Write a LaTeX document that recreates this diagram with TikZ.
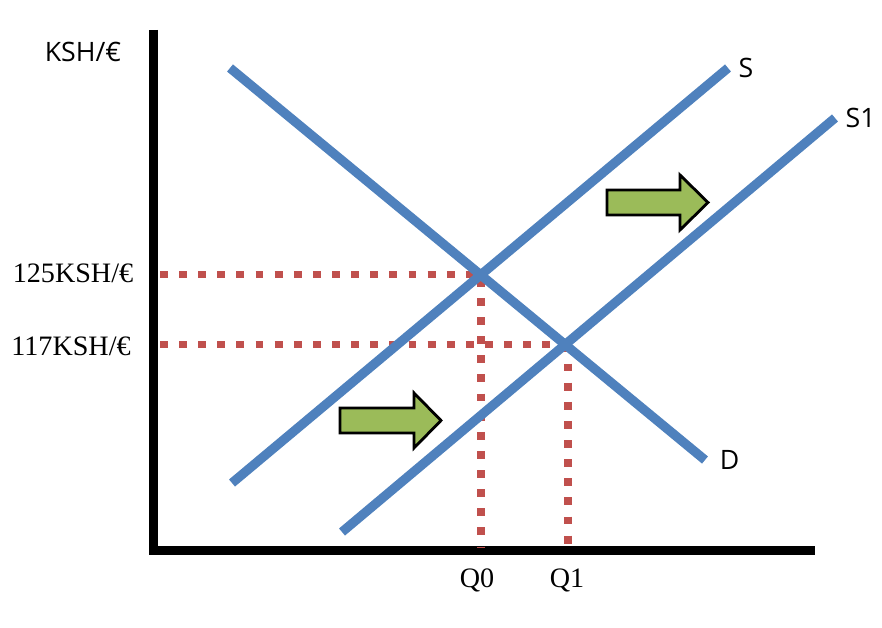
\documentclass[tikz,border=0pt]{standalone}
\usepackage{fontspec}
\setmainfont{Liberation Serif}
\newfontfamily\labelfont{Open Sans}
\usepackage{xcolor}
\usetikzlibrary{positioning}

\definecolor{curveblue}{HTML}{4F81BD}
\definecolor{guidered}{HTML}{C0504D}
\definecolor{shiftgreen}{HTML}{9BBB59}

\begin{document}
\begin{tikzpicture}[
    x=0.025cm, y=-0.025cm,
    axis/.style={line width=6.4pt, black},
    curve/.style={line width=6.6pt, curveblue},
    guide/.style={line width=5.6pt, guidered, dash pattern=on 5.6pt off 8pt},
    shiftarrow/.style={draw=black, line width=2pt, fill=shiftgreen, line join=miter},
    serif label/.style={font=\fontsize{20}{22}\selectfont},
    curve label/.style={font=\labelfont\fontsize{19}{21}\selectfont}
]
    \useasboundingbox (0,0) rectangle (882,628);

    % axes
    \coordinate (top) at (153,30);
    \coordinate (origin) at (153,551);
    \coordinate (right) at (815,551);
    \draw[axis] (top) -- (origin) -- (right);

    % curve end points and equilibria
    \coordinate (d0) at (230,68);
    \coordinate (d1) at (705,460);
    \coordinate (s0) at (232,483);
    \coordinate (s1) at (728,68);
    \coordinate (t0) at (342,532);
    \coordinate (t1) at (835,118);
    \coordinate (e0) at (480.8,274.5);
    \coordinate (e1) at (565.2,344.5);
    \coordinate (p0) at (160,274.5);
    \coordinate (p1) at (160,344.5);
    \coordinate (q0) at (480.8,548);
    \coordinate (q1) at (568,548);

    % dotted guides
    \draw[guide] (p0) -- (e0) -- (q0);
    \draw[guide] (p1) -- (e1);
    \draw[guide] (568,344.5) -- (q1);

    % curves
    \draw[curve] (d0) -- (d1);
    \draw[curve] (s0) -- (s1);
    \draw[curve] (t0) -- (t1);

    % shift arrows
    \draw[shiftarrow] (340,408) -- (414,408) -- (414,393) -- (441,420.5)
        -- (414,448) -- (414,433) -- (340,433) -- cycle;
    \draw[shiftarrow] (607,190) -- (680,190) -- (680,175) -- (708,202.5)
        -- (680,230) -- (680,215) -- (607,215) -- cycle;

    % labels
    \node[curve label] (ylab) at (83,52) {KSH/€};
    \node[serif label] (plab0) at (73,273) {125KSH/€};
    \node[serif label] (plab1) at (71,346) {117KSH/€};
    \node[serif label] (qlab0) at (477,580) {Q0};
    \node[serif label] (qlab1) at (567,580) {Q1};
    \node[curve label, right=4pt of s1] (slab) {S};
    \node[curve label, right=4pt of t1] (s1lab) {S1};
    \node[curve label, right=7pt of d1] (dlab) {D};
\end{tikzpicture}
\end{document}
